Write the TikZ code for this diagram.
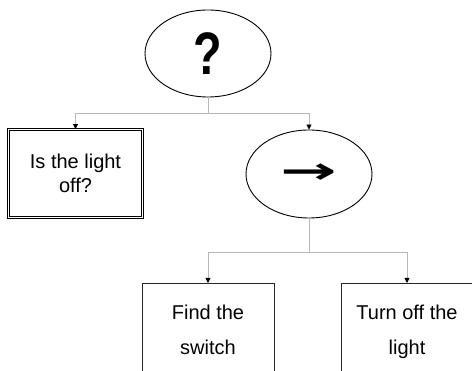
\documentclass[tikz,border=0pt]{standalone}
\usepackage{fontspec}
\setmainfont{Liberation Sans}
\newfontfamily\arrowfont{DejaVu Sans}
\usetikzlibrary{shapes.geometric,arrows.meta}
\tikzset{
  conn/.style={draw=black!28, line width=0.8pt, -{Triangle[color=black,length=5pt,width=5pt]}},
  connplain/.style={draw=black!28, line width=0.8pt},
  oval/.style={ellipse, draw=black, line width=0.9pt, inner sep=0pt},
  leaf/.style={rectangle, draw=black!85, line width=1pt, font=\fontsize{20}{35}\selectfont, align=center},
}
\begin{document}
\begin{tikzpicture}[x=1pt,y=-1pt]
\useasboundingbox (0,0) rectangle (472,371);
\clip (0,0) rectangle (472,371);
\node[oval, minimum width=126pt, minimum height=87pt] (q) at (208,53.5)
  {\raisebox{-1pt}{\bfseries\fontsize{60}{60}\selectfont\scalebox{0.78}[1]{?}}};
\node[rectangle, draw=black, double=white, double distance=1.6pt, line width=0.9pt,
  minimum width=134pt, minimum height=88pt, font=\fontsize{20}{23.5}\selectfont, align=center]
  (b1) at (75.5,173.5) {Is the light\\off?};
\node[oval, minimum width=126pt, minimum height=88pt] (s) at (309,174)
  {\arrowfont\bfseries\fontsize{52}{52}\selectfont\scalebox{1.3}[0.7]{→}};
\node[leaf, anchor=north, minimum width=132pt, inner ysep=22pt] (b3) at (208,283) {Find the\\switch};
\node[leaf, anchor=north, minimum width=132pt, inner ysep=22pt] (b4) at (407,283) {Turn off the\\light};
\coordinate (j1) at (208,113);
\coordinate (j2) at (309,252);
\draw[connplain] (q.south) -- (j1);
\draw[conn] (j1) -| (b1.north);
\draw[conn] (j1) -| (s.north);
\draw[connplain] (s.south) -- (j2);
\draw[conn] (j2) -| (b3.north);
\draw[conn] (j2) -| (b4.north);
\end{tikzpicture}
\end{document}
